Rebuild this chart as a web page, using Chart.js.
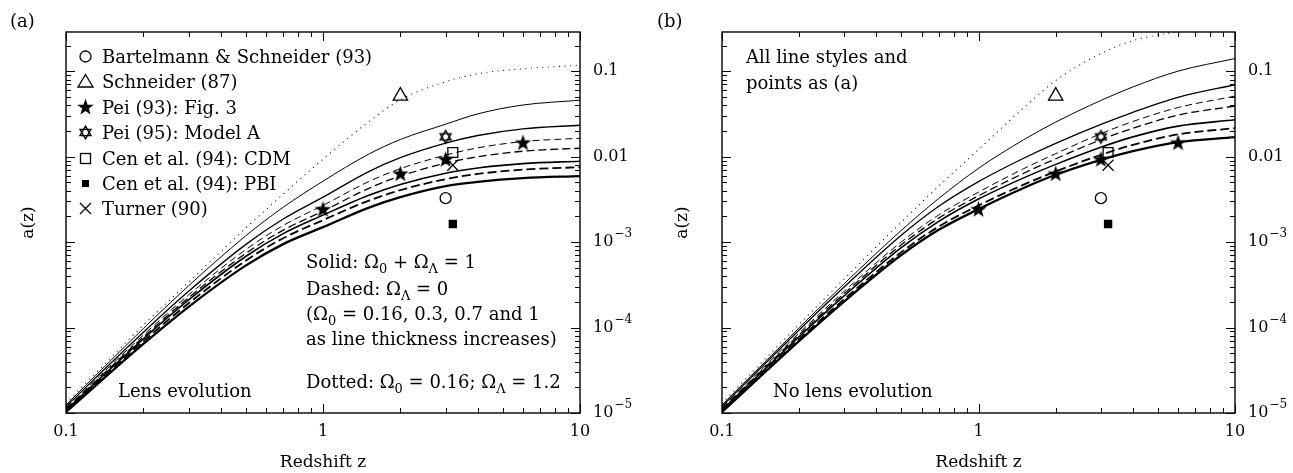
<!DOCTYPE html>
<html>
<head>
<meta charset="utf-8">
<script src="https://cdn.jsdelivr.net/npm/chart.js@4.4.1/dist/chart.umd.min.js"></script>
<style>
  html, body { margin: 0; padding: 0; background: #fff; }
  #wrap { position: relative; width: 1293px; height: 473px; }
  .panel { position: absolute; top: 0; height: 473px; }
  #pa { left: 0; width: 646px; }
  #pb { left: 646px; width: 647px; }
</style>
</head>
<body>
<div id="wrap">
  <div class="panel" id="pa"><canvas id="chartA"></canvas></div>
  <div class="panel" id="pb"><canvas id="chartB"></canvas></div>
</div>
<script>
var SERIF = '"DejaVu Serif", serif';

// redshift grid of the model curves
var redshift = [0.1, 0.2, 0.3, 0.5, 0.7, 1, 1.5, 2, 3, 4, 6, 10];

// (a) lens evolution
var evoDotted    = [1.31e-5, 1.069e-4, 3.40e-4, 1.459e-3, 3.639e-3, 9.35e-3, 0.02535, 0.04645, 0.0753, 0.0935, 0.107, 0.1175];
var evoSolid016  = [1.242e-5, 9.75e-5, 3.083e-4, 1.183e-3, 2.559e-3, 5.164e-3, 0.01064, 0.01589, 0.02399, 0.0317, 0.04027, 0.0458];
var evoSolid03   = [1.191e-5, 8.81e-5, 2.661e-4, 9.35e-4, 1.862e-3, 3.357e-3, 6.65e-3, 9.73e-3, 0.01439, 0.0177, 0.02118, 0.02333];
var evoDashed016 = [1.143e-5, 8.18e-5, 2.41e-4, 8.15e-4, 1.567e-3, 2.692e-3, 5.08e-3, 7.24e-3, 0.01042, 0.01268, 0.01503, 0.01644];
var evoDashed03  = [1.114e-5, 7.74e-5, 2.239e-4, 7.36e-4, 1.38e-3, 2.307e-3, 4.236e-3, 5.93e-3, 8.39e-3, 9.98e-3, 0.01159, 0.01256];
var evoSolid07   = [1.084e-5, 7.38e-5, 2.104e-4, 6.79e-4, 1.256e-3, 2.07e-3, 3.516e-3, 4.732e-3, 6.41e-3, 7.38e-3, 8.30e-3, 8.85e-3];
var evoDashed07  = [1.054e-5, 6.90e-5, 1.923e-4, 6.05e-4, 1.112e-3, 1.807e-3, 3.041e-3, 4.055e-3, 5.46e-3, 6.28e-3, 7.06e-3, 7.53e-3];
var evoSolid1    = [1.028e-5, 6.43e-5, 1.750e-4, 5.31e-4, 9.48e-4, 1.496e-3, 2.518e-3, 3.357e-3, 4.519e-3, 5.07e-3, 5.61e-3, 5.92e-3];

// (b) no lens evolution
var noevoDotted    = [1.31e-5, 1.096e-4, 3.733e-4, 1.714e-3, 4.53e-3, 0.01213, 0.03724, 0.0778, 0.1614, 0.228, 0.2904, 0.3388];
var noevoSolid016  = [1.242e-5, 9.98e-5, 3.273e-4, 1.371e-3, 3.243e-3, 7.31e-3, 0.01578, 0.02541, 0.0455, 0.0655, 0.1003, 0.1408];
var noevoSolid03   = [1.191e-5, 9.37e-5, 2.999e-4, 1.202e-3, 2.624e-3, 5.105e-3, 9.59e-3, 0.01432, 0.02388, 0.03311, 0.04955, 0.0695];
var noevoDashed016 = [1.143e-5, 8.65e-5, 2.673e-4, 1.005e-3, 2.084e-3, 3.846e-3, 7.24e-3, 0.01086, 0.01858, 0.02582, 0.03762, 0.05117];
var noevoDashed03  = [1.114e-5, 8.24e-5, 2.512e-4, 9.29e-4, 1.910e-3, 3.483e-3, 6.40e-3, 9.45e-3, 0.01578, 0.02153, 0.03069, 0.03917];
var noevoSolid07   = [1.084e-5, 7.85e-5, 2.366e-4, 8.63e-4, 1.750e-3, 3.192e-3, 5.65e-3, 8.13e-3, 0.01291, 0.01706, 0.0228, 0.02704];
var noevoDashed07  = [1.054e-5, 7.33e-5, 2.158e-4, 7.64e-4, 1.521e-3, 2.685e-3, 4.705e-3, 6.71e-3, 0.01052, 0.01377, 0.01824, 0.0216];
var noevoSolid1    = [1.028e-5, 6.98e-5, 2.032e-4, 7.06e-4, 1.393e-3, 2.432e-3, 4.305e-3, 6.14e-3, 9.18e-3, 0.01159, 0.01479, 0.01694];

// observed / quoted values (same in both panels)
var bartelmannZ = [3],   bartelmannA = [3.27e-3];
var schneiderZ  = [2],   schneiderA  = [0.0514];
var pei93Z = [1, 2, 3, 6], pei93A = [2.39e-3, 6.24e-3, 9.18e-3, 0.01439];
var pei95Z  = [3],   pei95A  = [0.01706];
var cenCdmZ = [3.2], cenCdmA = [0.0112];
var cenPbiZ = [3.2], cenPbiA = [1.63e-3];
var turnerZ = [3.2], turnerA = [7.96e-3];

// axis ticks
var zTicks = [0.1, 1, 10];
var zMinor = [0.2, 0.3, 0.4, 0.5, 0.6, 0.7, 0.8, 0.9, 2, 3, 4, 5, 6, 7, 8, 9];
var aDecades = [1e-5, 1e-4, 1e-3, 1e-2, 1e-1];
var aLabels = [['0.1', ''], ['0.01', ''], ['10', '\u22123'], ['10', '\u22124'], ['10', '\u22125']];
var aLabelVals = [0.1, 0.01, 1e-3, 1e-4, 1e-5];

// glyphs used for the star markers and for the legend
function glyph(size, draw) {
  var c = document.createElement('canvas');
  c.width = c.height = size;
  var g = c.getContext('2d');
  g.translate(size / 2, size / 2);
  g.strokeStyle = '#000'; g.fillStyle = '#000'; g.lineWidth = 1.3;
  draw(g);
  return c;
}
var mkCircle = glyph(15, function (g) { g.beginPath(); g.arc(0, 0, 5.5, 0, Math.PI * 2); g.stroke(); });
var mkTriangle = glyph(19, function (g) { g.beginPath(); g.moveTo(0, -7); g.lineTo(7.5, 5.5); g.lineTo(-7.5, 5.5); g.closePath(); g.stroke(); });
var mkStar = glyph(21, function (g) {
  g.beginPath();
  for (var i = 0; i < 10; i++) {
    var r = i % 2 ? 3.5 : 8.7, t = -Math.PI / 2 + i * Math.PI / 5;
    g.lineTo(r * Math.cos(t), r * Math.sin(t));
  }
  g.closePath(); g.fill();
});
var mkHex = glyph(17, function (g) {
  g.lineWidth = 1.4;
  [-Math.PI / 2, Math.PI / 2].forEach(function (t0) {
    g.beginPath();
    for (var i = 0; i < 3; i++) { var t = t0 + i * 2 * Math.PI / 3; g.lineTo(6.3 * Math.cos(t), 6.3 * Math.sin(t)); }
    g.closePath(); g.stroke();
  });
});
var mkSquare = glyph(15, function (g) { g.strokeRect(-5, -5, 10, 10); });
var mkFilled = glyph(9, function (g) { g.fillRect(-3.5, -3.5, 7, 7); });
var mkCross = glyph(15, function (g) { g.beginPath(); g.moveTo(-5.5, -5.5); g.lineTo(5.5, 5.5); g.moveTo(5.5, -5.5); g.lineTo(-5.5, 5.5); g.stroke(); });

var legendRows = [
  [mkCircle, 'Bartelmann & Schneider (93)'],
  [mkTriangle, 'Schneider (87)'],
  [mkStar, 'Pei (93): Fig. 3'],
  [mkHex, 'Pei (95): Model A'],
  [mkSquare, 'Cen et al. (94): CDM'],
  [mkFilled, 'Cen et al. (94): PBI'],
  [mkCross, 'Turner (90)']
];

function pts(zs, as) { return zs.map(function (z, i) { return {x: z, y: as[i]}; }); }
function curve(vals, w, dash) {
  return {data: pts(redshift, vals), showLine: true, borderColor: '#000', borderWidth: w,
    borderDash: dash || [], borderCapStyle: dash && dash[0] < 1 ? 'round' : 'butt',
    pointRadius: 0, cubicInterpolationMode: 'monotone', fill: false, order: 2};
}
function marks(zs, as, style, r, fill) {
  return {data: pts(zs, as), showLine: false, pointStyle: style, pointRadius: r,
    borderColor: '#000', borderWidth: 1.3, backgroundColor: fill ? '#000' : 'rgba(0,0,0,0)', order: 1};
}
function markSets() {
  return [
    marks(bartelmannZ, bartelmannA, 'circle', 5.5),
    marks(schneiderZ, schneiderA, 'triangle', 8.3),
    marks(pei93Z, pei93A, mkStar, 6),
    marks(pei95Z, pei95A, mkHex, 6),
    marks(cenCdmZ, cenCdmA, 'rect', 7),
    marks(cenPbiZ, cenPbiA, 'rect', 5, true),
    marks(turnerZ, turnerA, 'crossRot', 7.8)
  ];
}

function richText(ctx, x, y, parts, size) {
  parts.forEach(function (p) {
    var t = typeof p === 'string' ? p : p[0], kind = typeof p === 'string' ? '' : p[1];
    var fs = kind ? size * 0.72 : size;
    ctx.font = fs + 'px ' + SERIF;
    var dy = kind === 'sub' ? size * 0.3 : (kind === 'sup' ? -size * 0.42 : 0);
    ctx.fillText(t, x, y + dy);
    x += ctx.measureText(t).width;
  });
}

// frame, inward ticks, labels and notes
var decor = {
  id: 'decor',
  afterDatasetsDraw: function (chart, args, opts) {
    var ctx = chart.ctx, a = chart.chartArea, xs = chart.scales.x, ys = chart.scales.y;
    ctx.save();
    ctx.strokeStyle = '#000';
    ctx.lineWidth = 1;
    ctx.beginPath();
    zTicks.concat(zMinor).forEach(function (v) {
      var px = Math.round(xs.getPixelForValue(v)) + 0.5, len = zTicks.indexOf(v) >= 0 ? 9 : 5;
      ctx.moveTo(px, a.bottom); ctx.lineTo(px, a.bottom - len);
      ctx.moveTo(px, a.top); ctx.lineTo(px, a.top + len);
    });
    aDecades.forEach(function (d) {
      for (var m = 1; m < 10; m++) {
        var v = m * d;
        if (v > ys.max) break;
        var py = Math.round(ys.getPixelForValue(v)) + 0.5, len = m === 1 ? 9 : 5;
        ctx.moveTo(a.left, py); ctx.lineTo(a.left + len, py);
        ctx.moveTo(a.right, py); ctx.lineTo(a.right - len, py);
      }
    });
    ctx.stroke();
    ctx.lineWidth = 1.4;
    ctx.strokeRect(a.left, a.top, a.right - a.left, a.bottom - a.top);

    ctx.fillStyle = '#000';
    ctx.textAlign = 'left';
    // right hand tick labels
    ctx.textBaseline = 'middle';
    aLabelVals.forEach(function (v, i) {
      var py = ys.getPixelForValue(v), x0 = a.right + 13;
      ctx.font = '16px ' + SERIF;
      ctx.fillText(aLabels[i][0], x0, py);
      if (aLabels[i][1]) {
        var w = ctx.measureText(aLabels[i][0]).width;
        ctx.font = '12px ' + SERIF;
        ctx.fillText(aLabels[i][1], x0 + w + 1, py - 8);
      }
    });
    ctx.textBaseline = 'alphabetic';
    ctx.font = '18px ' + SERIF;
    ctx.fillText(opts.panel, opts.panelX, 27);
    opts.notes.forEach(function (n) { richText(ctx, n[0], n[1], n[2], 18); });
    if (opts.legend) {
      legendRows.forEach(function (r, i) {
        var base = Math.round(63 + i * 25.4);
        ctx.drawImage(r[0], Math.round(85 - r[0].width / 2), Math.round(base - 6.5 - r[0].height / 2));
        ctx.font = '18px ' + SERIF;
        ctx.fillText(r[1], 102, base);
      });
    }
    ctx.restore();
  }
};

function makeChart(id, lines, leftW, rightPad, titlePad, deco) {
  var ctx = document.getElementById(id).getContext('2d');
  return new Chart(ctx, {
    type: 'scatter',
    data: {datasets: markSets().concat([
      curve(lines[0], 1.1, [0.1, 5.5]),
      curve(lines[1], 1.0),
      curve(lines[2], 1.3),
      curve(lines[3], 1.0, [7, 4]),
      curve(lines[4], 1.3, [8, 4]),
      curve(lines[5], 1.6),
      curve(lines[6], 1.8, [9, 4]),
      curve(lines[7], 2.3)
    ])},
    options: {
      responsive: true,
      maintainAspectRatio: false,
      animation: false,
      layout: {padding: {top: 32, right: rightPad, left: 0, bottom: 0}},
      plugins: {legend: {display: false}, tooltip: {enabled: false}, decor: deco},
      scales: {
        x: {
          type: 'logarithmic', min: 0.1, max: 10,
          afterBuildTicks: function (s) { s.ticks = zTicks.map(function (v) { return {value: v}; }); },
          afterFit: function (s) { s.height = 60; },
          grid: {display: false, drawTicks: false},
          border: {display: false},
          ticks: {autoSkip: false, maxRotation: 0, padding: 9, color: '#000',
            font: {family: SERIF, size: 16}, callback: function (v) { return String(v); }},
          title: {display: true, text: 'Redshift z', color: '#000', font: {family: SERIF, size: 17},
            padding: {top: 0, bottom: 0}}
        },
        y: {
          type: 'logarithmic', min: 1e-5, max: 0.288,
          afterFit: function (s) { s.width = leftW; },
          grid: {display: false, drawTicks: false},
          border: {display: false},
          ticks: {display: false},
          title: {display: true, text: 'a(z)', color: '#000', font: {family: SERIF, size: 17},
            padding: {top: titlePad, bottom: 0}}
        }
      }
    },
    plugins: [decor]
  });
}

makeChart('chartA',
  [evoDotted, evoSolid016, evoSolid03, evoDashed016, evoDashed03, evoSolid07, evoDashed07, evoSolid1],
  66, 66, 18, {
    panel: '(a)', panelX: 10, legend: true,
    notes: [
      [118, 397, ['Lens evolution']],
      [306, 268, ['Solid: \u03A9', ['0', 'sub'], ' + \u03A9', ['\u039B', 'sub'], ' = 1']],
      [306, 295, ['Dashed: \u03A9', ['\u039B', 'sub'], ' = 0']],
      [306, 320, ['(\u03A9', ['0', 'sub'], ' = 0.16, 0.3, 0.7 and 1']],
      [306, 345, ['as line thickness increases)']],
      [306, 388, ['Dotted: \u03A9', ['0', 'sub'], ' = 0.16; \u03A9', ['\u039B', 'sub'], ' = 1.2']]
    ]
  });

makeChart('chartB',
  [noevoDotted, noevoSolid016, noevoSolid03, noevoDashed016, noevoDashed03, noevoSolid07, noevoDashed07, noevoSolid1],
  76, 58, 26, {
    panel: '(b)', panelX: 11, legend: false,
    notes: [
      [100, 63, ['All line styles and']],
      [100, 88.5, ['points as (a)']],
      [127, 397, ['No lens evolution']]
    ]
  });
</script>
</body>
</html>
